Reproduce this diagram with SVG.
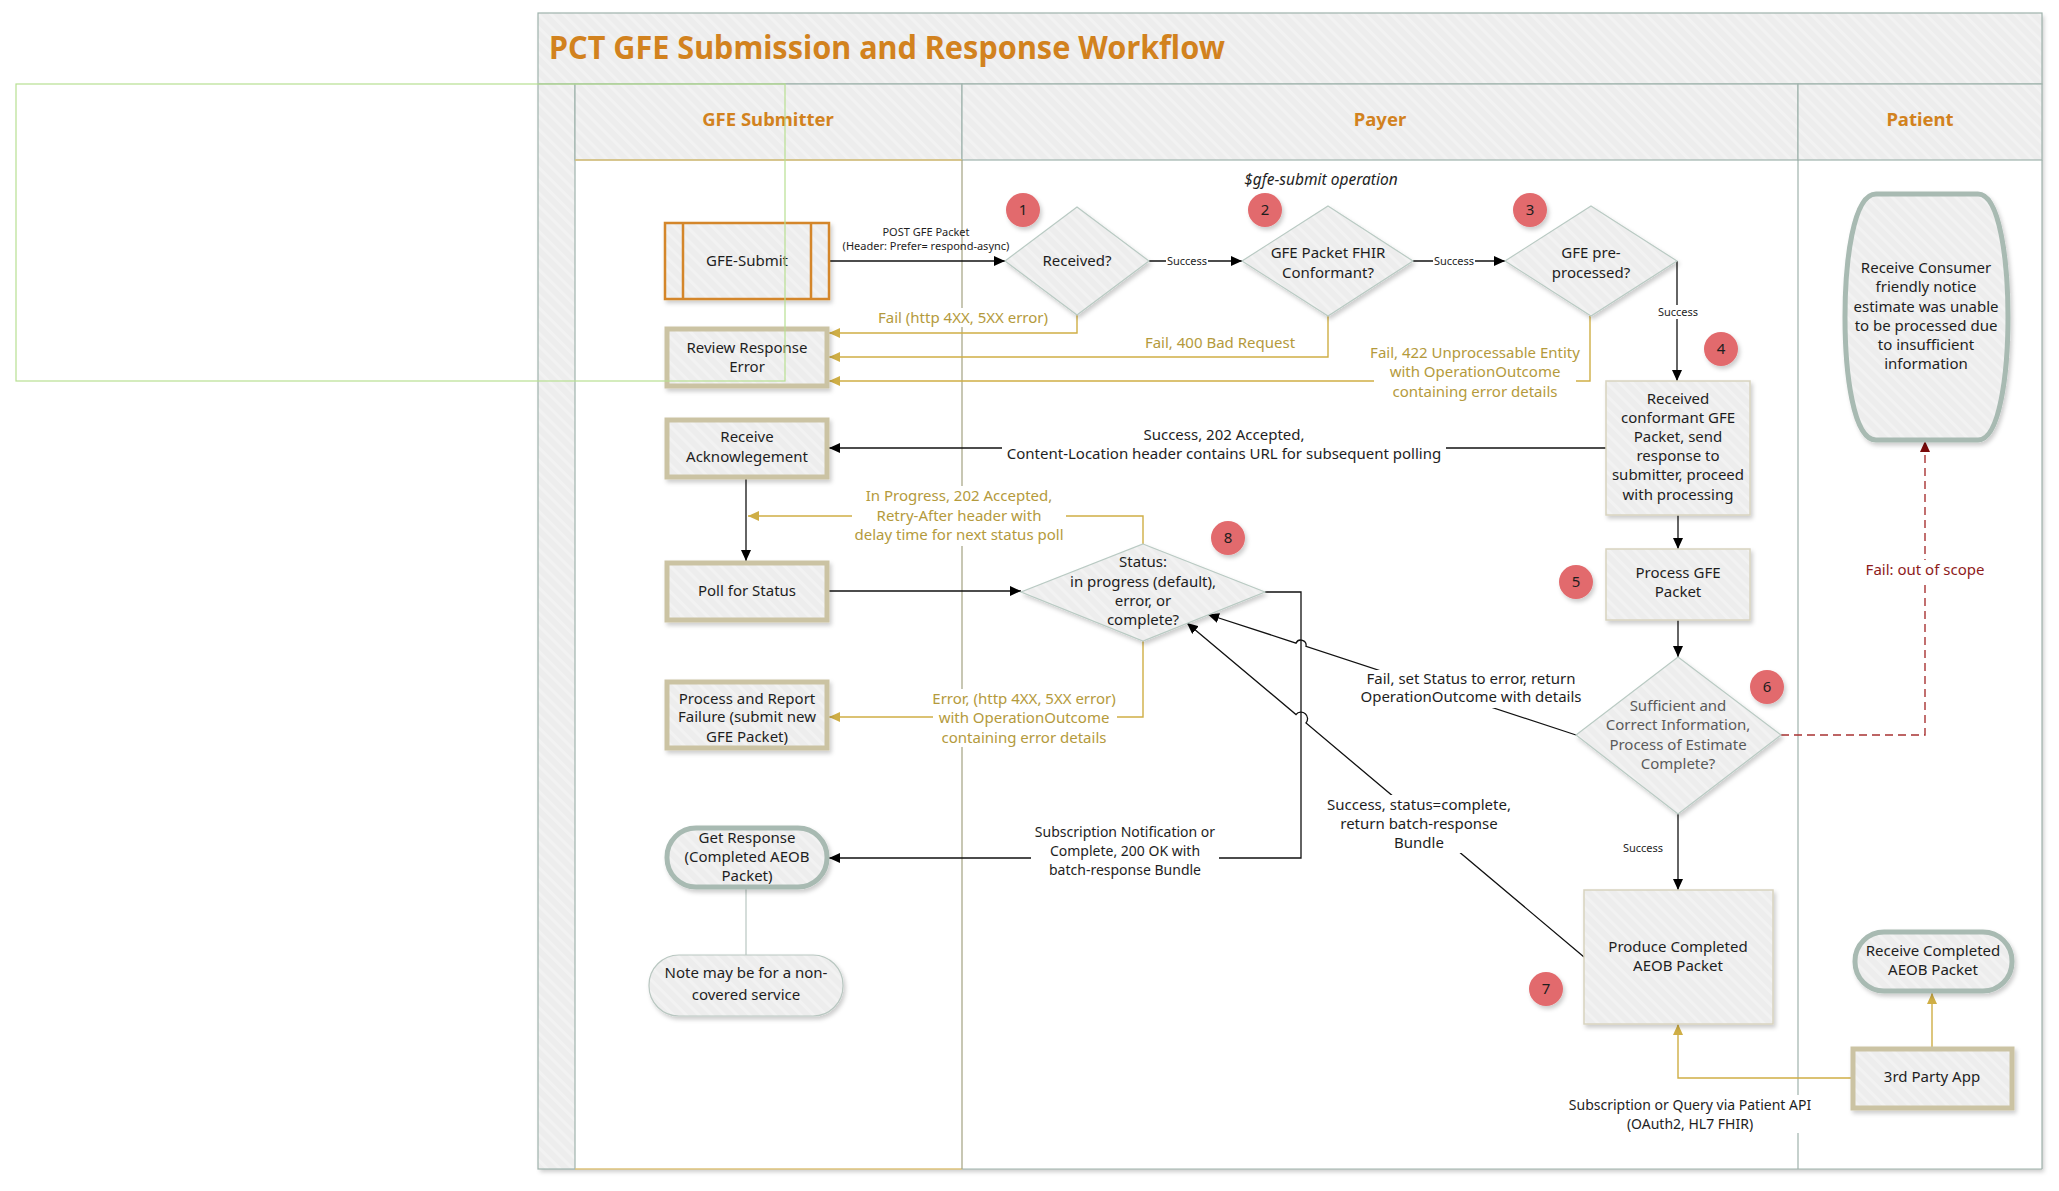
<svg xmlns="http://www.w3.org/2000/svg" width="2059" height="1191" viewBox="0 0 2059 1191">
<defs>
<style>
.t{font-family:"Noto Sans","Liberation Sans",sans-serif;font-size:15px;fill:#1e1e1e;text-anchor:middle}
.sm{font-size:11px}
.lb{font-size:15px}
.sb{font-size:14px}
.gl{font-size:15px;fill:#b49a3c}
.rd{font-size:15px;fill:#8e1b1b}
.gr{fill:#5a5a5a}
.hd{font-weight:bold;font-size:18.5px;fill:#d2821e}
.ti{font-weight:bold;font-size:32px;fill:#d2821e;text-anchor:start}
.it{font-style:italic;font-size:15.5px}
.band{fill:url(#hatch);stroke:#9fb3ac;stroke-width:1.2}
.box{fill:url(#hatch);stroke:#cbc3a3;stroke-width:5}
.pbox{fill:url(#hatch);stroke:#d8d3bf;stroke-width:1.5}
.pill{fill:url(#hatch);stroke:#a8bab2;stroke-width:5}
.dia{fill:url(#hatch);stroke:#b9cac3;stroke-width:1.2}
.badge{fill:#e26a6d}
.k{fill:none;stroke:#111;stroke-width:1.3}
.gd{fill:none;stroke:#cfae45;stroke-width:1.4}
.bg{fill:#fff}
</style>
<pattern id="hatch" width="9" height="9" patternUnits="userSpaceOnUse" patternTransform="rotate(-45)">
<rect width="9" height="9" fill="#ededed"/>
<rect width="3" height="9" fill="#f2f2f2"/>
</pattern>
<filter id="sh" x="-10%" y="-10%" width="130%" height="130%">
<feDropShadow dx="2" dy="3" stdDeviation="2" flood-color="#000" flood-opacity="0.2"/>
</filter>
<marker id="ak" markerUnits="userSpaceOnUse" markerWidth="12" markerHeight="10" refX="11" refY="5" orient="auto">
<path d="M0,0 L11,5 L0,10 z" fill="#000"/>
</marker>
<marker id="ag" markerUnits="userSpaceOnUse" markerWidth="12" markerHeight="10" refX="11" refY="5" orient="auto">
<path d="M0,0 L11,5 L0,10 z" fill="#cfae45"/>
</marker>
<marker id="ar" markerUnits="userSpaceOnUse" markerWidth="12" markerHeight="10" refX="11" refY="5" orient="auto">
<path d="M0,0 L11,5 L0,10 z" fill="#7a0a0a"/>
</marker>
</defs>

<rect width="2059" height="1191" fill="#fff"/>

<!-- swimlane frame -->
<g id="frame">
<rect x="538" y="13" width="1504" height="1156" fill="#fff" filter="url(#sh)"/>
<rect class="band" x="538" y="13" width="1504" height="71"/>
<rect class="band" x="538" y="84" width="37" height="1085"/>
<rect class="band" x="575" y="84" width="387" height="76"/>
<rect class="band" x="962" y="84" width="836" height="76"/>
<rect class="band" x="1798" y="84" width="244" height="76"/>
<line x1="575" y1="160" x2="962" y2="160" stroke="#dcc27a" stroke-width="1.5"/>
<line x1="575" y1="1169" x2="962" y2="1169" stroke="#dcc27a" stroke-width="1.5"/>
<line x1="962" y1="1169" x2="2042" y2="1169" stroke="#9fb3ac" stroke-width="1.2"/>
<line x1="2042" y1="160" x2="2042" y2="1169" stroke="#9fb3ac" stroke-width="1.2"/>
<line x1="962" y1="160" x2="962" y2="1169" stroke="#aaa98a" stroke-width="1.3"/>
<line x1="1798" y1="160" x2="1798" y2="1169" stroke="#9fb3ac" stroke-width="1.2"/>
<text class="t ti" x="549" y="59" textLength="676" lengthAdjust="spacingAndGlyphs">PCT GFE Submission and Response Workflow</text>
<text class="t hd" x="768" y="126">GFE Submitter</text>
<text class="t hd" x="1380" y="126">Payer</text>
<text class="t hd" x="1920" y="126">Patient</text>
<text class="t it" x="1321" y="185">$gfe-submit operation</text>
</g>

<!-- connectors -->
<g id="connectors">
<path class="k" d="M829,261 H1005" marker-end="url(#ak)"/>
<path class="k" d="M1149,261 H1242" marker-end="url(#ak)"/>
<path class="k" d="M1413,261 H1505" marker-end="url(#ak)"/>
<path class="k" d="M1677,261 V381" marker-end="url(#ak)"/>
<path class="gd" d="M1077,315 V333 H829" marker-end="url(#ag)"/>
<path class="gd" d="M1328,316 V357 H829" marker-end="url(#ag)"/>
<path class="gd" d="M1590,316 V381 H829" marker-end="url(#ag)"/>
<path class="k" d="M1606,448 H829" stroke="#333" marker-end="url(#ak)"/>
<path class="k" d="M1678,515 V549" marker-end="url(#ak)"/>
<path class="k" d="M1678,620 V657" marker-end="url(#ak)"/>
<path class="k" d="M1678,814 V890" marker-end="url(#ak)"/>
<path d="M1781,735 H1925 V441" fill="none" stroke="#a83232" stroke-width="1.4" stroke-dasharray="8,5" marker-end="url(#ar)"/>
<path class="k" d="M746,479 V561" marker-end="url(#ak)"/>
<path class="k" d="M829,591 H1021" stroke="#444" marker-end="url(#ak)"/>
<path class="gd" d="M1143,544 V516 H748" marker-end="url(#ag)"/>
<path class="gd" d="M1143,641 V717 H829" marker-end="url(#ag)"/>
<path class="k" d="M1265,592 H1301 V858 H829" marker-end="url(#ak)"/>
<path class="k" d="M1576,735 L1306,646.3 A5.3,5.3 0 0 0 1296,643.1 L1208,614.5" marker-end="url(#ak)"/>
<path class="k" d="M1584,957 L1306,723 A6.5,6.5 0 0 0 1296,714.5 L1187,623" marker-end="url(#ak)"/>
<path class="gd" d="M1853,1078 H1678 V1024" marker-end="url(#ag)"/>
<path class="gd" d="M1932,1049 V993" marker-end="url(#ag)"/>

<!-- connector labels -->
<text class="t sm" x="926" y="236">POST GFE Packet</text>
<text class="t sm" x="926" y="250">(Header: Prefer=  respond-async)</text>
<rect class="bg" x="1166" y="254" width="42" height="13"/>
<text class="t sm" x="1187" y="265">Success</text>
<rect class="bg" x="1433" y="254" width="42" height="13"/>
<text class="t sm" x="1454" y="265">Success</text>
<rect class="bg" x="1656" y="305" width="44" height="14"/>
<text class="t sm" x="1678" y="316">Success</text>
<text class="t sm" x="1643" y="852">Success</text>
<rect class="bg" x="875" y="308" width="177" height="19"/>
<text class="t gl" x="963" y="323">Fail (http 4XX, 5XX error)</text>
<text class="t gl" x="1220" y="348">Fail, 400 Bad Request</text>
<rect class="bg" x="1374" y="342" width="202" height="60"/>
<text class="t gl" x="1475" y="358">Fail, 422 Unprocessable Entity</text>
<text class="t gl" x="1475" y="377">with OperationOutcome</text>
<text class="t gl" x="1475" y="397">containing error details</text>
<rect class="bg" x="1002" y="424" width="444" height="38"/>
<text class="t lb" x="1224" y="440">Success, 202 Accepted,</text>
<text class="t lb" x="1224" y="459">Content-Location header contains URL for subsequent polling</text>
<rect class="bg" x="852" y="486" width="214" height="60"/>
<text class="t gl" x="959" y="501">In Progress, 202 Accepted,</text>
<text class="t gl" x="959" y="521">Retry-After header with</text>
<text class="t gl" x="959" y="540">delay time for next status poll</text>
<rect class="bg" x="933" y="689" width="184" height="58"/>
<text class="t gl" x="1024" y="704">Error, (http 4XX, 5XX error)</text>
<text class="t gl" x="1024" y="723">with OperationOutcome</text>
<text class="t gl" x="1024" y="743">containing error details</text>
<rect class="bg" x="1031" y="822" width="188" height="58"/>
<text class="t sb" x="1125" y="837">Subscription Notification or</text>
<text class="t sb" x="1125" y="856">Complete, 200 OK with</text>
<text class="t sb" x="1125" y="875">batch-response Bundle</text>
<rect class="bg" x="1360" y="670" width="222" height="38"/>
<text class="t lb" x="1471" y="684">Fail, set Status to error,  return</text>
<text class="t lb" x="1471" y="702">OperationOutcome with details</text>
<rect class="bg" x="1325" y="795" width="188" height="58"/>
<text class="t lb" x="1419" y="810">Success, status=complete,</text>
<text class="t lb" x="1419" y="829">return batch-response</text>
<text class="t lb" x="1419" y="848">Bundle</text>
<rect class="bg" x="1862" y="560" width="126" height="20"/>
<text class="t rd" x="1925" y="575">Fail: out of scope</text>
<rect class="bg" x="1565" y="1095" width="250" height="38"/>
<text class="t sb" x="1690" y="1110">Subscription or Query via Patient API</text>
<text class="t sb" x="1690" y="1129">(OAuth2, HL7 FHIR)</text>
<line x1="746" y1="889" x2="746" y2="955" stroke="#b9c7c1" stroke-width="1.2"/>
</g>

<!-- GFE Submitter lane -->
<g id="gfe-submit">
<g filter="url(#sh)">
<rect x="665" y="223" width="164" height="76" fill="url(#hatch)" stroke="#d4862a" stroke-width="2.5"/>
<line x1="683" y1="223" x2="683" y2="299" stroke="#d4862a" stroke-width="2.5"/>
<line x1="811" y1="223" x2="811" y2="299" stroke="#d4862a" stroke-width="2.5"/>
</g>
<text class="t" x="747" y="266">GFE-Submit</text>
</g>
<g id="review-error">
<rect class="box" x="667" y="329" width="160" height="57" filter="url(#sh)"/>
<text class="t" x="747" y="353">Review Response</text>
<text class="t" x="747" y="372">Error</text>
</g>
<g id="receive-ack">
<rect class="box" x="667" y="420" width="160" height="57" filter="url(#sh)"/>
<text class="t" x="747" y="442">Receive</text>
<text class="t" x="747" y="462">Acknowlegement</text>
</g>
<g id="poll-status">
<rect class="box" x="667" y="563" width="160" height="57" filter="url(#sh)"/>
<text class="t" x="747" y="596">Poll for Status</text>
</g>
<g id="report-failure">
<rect class="box" x="667" y="682" width="160" height="66" filter="url(#sh)"/>
<text class="t" x="747" y="704">Process and Report</text>
<text class="t" x="747" y="722">Failure (submit new</text>
<text class="t" x="747" y="742">GFE Packet)</text>
</g>
<g id="get-response">
<rect class="pill" x="667" y="828" width="160" height="59" rx="29" filter="url(#sh)"/>
<text class="t" x="747" y="843">Get Response</text>
<text class="t" x="747" y="862">(Completed AEOB</text>
<text class="t" x="747" y="881">Packet)</text>
</g>
<g id="note">
<rect x="649" y="955" width="194" height="61" rx="30" fill="url(#hatch)" stroke="#b9c7c1" stroke-width="1.2" filter="url(#sh)"/>
<text class="t" x="746" y="978">Note may be for a non-</text>
<text class="t" x="746" y="1000">covered service</text>
</g>

<!-- Payer lane -->
<g id="received">
<polygon class="dia" points="1077,207 1149,261 1077,315 1005,261" filter="url(#sh)"/>
<text class="t" x="1077" y="266">Received?</text>
</g>
<g id="fhir-conformant">
<polygon class="dia" points="1328,206 1413,261 1328,316 1242,261" filter="url(#sh)"/>
<text class="t" x="1328" y="258">GFE Packet FHIR</text>
<text class="t" x="1328" y="278">Conformant?</text>
</g>
<g id="pre-processed">
<polygon class="dia" points="1591,206 1677,261 1591,316 1505,261" filter="url(#sh)"/>
<text class="t" x="1591" y="258">GFE pre-</text>
<text class="t" x="1591" y="278">processed?</text>
</g>
<g id="received-conformant">
<rect class="pbox" x="1606" y="381" width="144" height="134" filter="url(#sh)"/>
<text class="t" x="1678" y="404">Received</text>
<text class="t" x="1678" y="423">conformant GFE</text>
<text class="t" x="1678" y="442">Packet, send</text>
<text class="t" x="1678" y="461">response to</text>
<text class="t" x="1678" y="480">submitter, proceed</text>
<text class="t" x="1678" y="500">with processing</text>
</g>
<g id="process-gfe">
<rect class="pbox" x="1606" y="549" width="144" height="71" filter="url(#sh)"/>
<text class="t" x="1678" y="578">Process GFE</text>
<text class="t" x="1678" y="597">Packet</text>
</g>
<g id="status">
<polygon class="dia" points="1143,544 1265,592 1143,641 1021,592" filter="url(#sh)"/>
<text class="t" x="1143" y="567">Status:</text>
<text class="t" x="1143" y="587">in progress (default),</text>
<text class="t" x="1143" y="606">error, or</text>
<text class="t" x="1143" y="625">complete?</text>
</g>
<g id="sufficient">
<polygon class="dia" points="1678,657 1781,735 1678,814 1576,735" filter="url(#sh)"/>
<text class="t gr" x="1678" y="711">Sufficient and</text>
<text class="t gr" x="1678" y="730">Correct Information,</text>
<text class="t gr" x="1678" y="750">Process of Estimate</text>
<text class="t gr" x="1678" y="769">Complete?</text>
</g>
<g id="produce-aeob">
<rect class="pbox" x="1584" y="890" width="189" height="134" filter="url(#sh)"/>
<text class="t" x="1678" y="952">Produce Completed</text>
<text class="t" x="1678" y="971">AEOB Packet</text>
</g>

<!-- Patient lane -->
<g id="consumer-notice">
<path class="pill" d="M1876,194 H1978 C2000,194 2008,262 2008,317 C2008,372 2000,440 1978,440 H1876 C1853,440 1845,372 1845,317 C1845,262 1853,194 1876,194 Z" filter="url(#sh)"/>
<text class="t" x="1926" y="273">Receive Consumer</text>
<text class="t" x="1926" y="292">friendly notice</text>
<text class="t" x="1926" y="312">estimate was unable</text>
<text class="t" x="1926" y="331">to be processed due</text>
<text class="t" x="1926" y="350">to insufficient</text>
<text class="t" x="1926" y="369">information</text>
</g>
<g id="receive-aeob">
<rect class="pill" x="1855" y="932" width="157" height="59" rx="29" filter="url(#sh)"/>
<text class="t" x="1933" y="956">Receive Completed</text>
<text class="t" x="1933" y="975">AEOB Packet</text>
</g>
<g id="third-party-app">
<rect class="box" x="1853" y="1049" width="159" height="59" filter="url(#sh)"/>
<text class="t" x="1932" y="1082">3rd Party App</text>
</g>

<!-- step badges -->
<g id="badges">
<circle class="badge" cx="1023" cy="210" r="17" filter="url(#sh)"/><text class="t" x="1023" y="215">1</text>
<circle class="badge" cx="1265" cy="210" r="17" filter="url(#sh)"/><text class="t" x="1265" y="215">2</text>
<circle class="badge" cx="1530" cy="210" r="17" filter="url(#sh)"/><text class="t" x="1530" y="215">3</text>
<circle class="badge" cx="1721" cy="349" r="17" filter="url(#sh)"/><text class="t" x="1721" y="354">4</text>
<circle class="badge" cx="1576" cy="582" r="17" filter="url(#sh)"/><text class="t" x="1576" y="587">5</text>
<circle class="badge" cx="1767" cy="687" r="17" filter="url(#sh)"/><text class="t" x="1767" y="692">6</text>
<circle class="badge" cx="1546" cy="989" r="17" filter="url(#sh)"/><text class="t" x="1546" y="994">7</text>
<circle class="badge" cx="1228" cy="538" r="17" filter="url(#sh)"/><text class="t" x="1228" y="543">8</text>
</g>

<!-- selection outline -->
<rect x="16" y="84" width="769" height="297" fill="none" stroke="#b7df92" stroke-width="1.2"/>
</svg>
